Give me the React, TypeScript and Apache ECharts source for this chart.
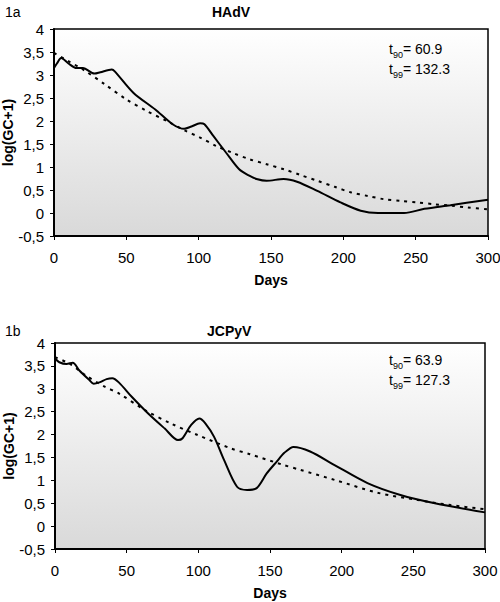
import React, { useEffect, useRef } from "react";
import * as echarts from "echarts";

const panelLabels = ["1a", "1b"];
const panelTitles = ["HAdV", "JCPyV"];
const t90Values = ["60.9", "63.9"];
const t99Values = ["132.3", "127.3"];
const xTicks = { min: 0, max: 300, interval: 50 };
const yTicks = { min: -0.5, max: 4, interval: 0.5 };

// HAdV observed (smoothed) curve: [day, log(GC+1)]
const hadvObserved: number[][] = [
  [0, 3.15], [2, 3.25], [5, 3.37], [10, 3.25], [15.6, 3.15], [20, 3.15], [28, 3.03],
  [32, 3.06], [40, 3.12], [42, 3.08], [55, 2.61], [70, 2.25], [82, 1.93], [90, 1.83],
  [95, 1.88], [101, 1.95], [104, 1.93], [110, 1.68], [119, 1.31], [128, 0.95],
  [135, 0.81], [140, 0.74], [147, 0.7], [158.7, 0.74], [168, 0.68], [182, 0.48],
  [198, 0.23], [212, 0.05], [224, 0.0], [242, 0.0], [256, 0.09], [274, 0.17], [300, 0.29],
];
// HAdV fitted model
const hadvFit: number[][] = [
  [0, 3.48], [10, 3.3], [20, 3.12], [35, 2.8], [50, 2.47], [64, 2.22], [78, 2.0],
  [90, 1.8], [101, 1.64], [112, 1.46], [124, 1.3], [135, 1.17], [147, 1.06], [159, 0.95],
  [170, 0.83], [182, 0.7], [194, 0.57], [205, 0.45], [217, 0.37], [228, 0.3],
  [240, 0.26], [251, 0.23], [263, 0.19], [274, 0.16], [286, 0.12], [300, 0.08],
];
// JCPyV observed (smoothed) curve
const jcpyvObserved: number[][] = [
  [0, 3.66], [3, 3.58], [8, 3.54], [12.4, 3.57], [17, 3.4], [24, 3.19], [27, 3.11],
  [31, 3.14], [36, 3.21], [40, 3.23], [44.5, 3.14], [53.7, 2.82], [65, 2.46], [76.6, 2.13],
  [85.8, 1.88], [89, 1.92], [95, 2.21], [100.7, 2.35], [105, 2.24], [111, 1.95],
  [118, 1.44], [127, 0.86], [134, 0.79], [140.7, 0.83], [147.7, 1.15], [154.7, 1.41],
  [160, 1.6], [166.4, 1.73], [178, 1.63], [194.7, 1.34], [218, 0.94], [241, 0.68],
  [265, 0.5], [300, 0.3],
];
// JCPyV fitted model
const jcpyvFit: number[][] = [
  [0, 3.69], [10, 3.55], [21.6, 3.29], [35, 3.04], [44.5, 2.9], [63, 2.53], [81, 2.24],
  [99.5, 1.99], [122.5, 1.7], [136, 1.57], [159, 1.34], [171, 1.23], [195, 1.01],
  [225, 0.73], [253, 0.57], [276, 0.46], [300, 0.37],
];

const observedSeries = [hadvObserved, jcpyvObserved];
const fitSeries = [hadvFit, jcpyvFit];

const FONT = "Liberation Sans";

export default function App() {
  const ref = useRef<HTMLDivElement>(null);
  useEffect(() => {
    if (!ref.current) return;
    const chart = echarts.init(ref.current, null, { renderer: "svg" });
    const grids = [
      { left: 54, top: 29, width: 434, height: 207 },
      { left: 55, top: 343, width: 430, height: 206 },
    ];
    const bg = {
      type: "linear", x: 0, y: 0, x2: 0, y2: 1,
      colorStops: [
        { offset: 0, color: "#ffffff" },
        { offset: 1, color: "#d9d9d9" },
      ],
    };
    const titleTops = [0, 319];
    const annTops = [39, 350];
    chart.setOption({
      animation: false,
      backgroundColor: "#ffffff",
      title: [
        ...panelLabels.map((t, i) => ({
          text: t, left: 0, top: titleTops[i],
          textStyle: { fontFamily: FONT, fontSize: 14, fontWeight: "normal", color: "#000" },
        })),
        ...panelTitles.map((t, i) => ({
          text: t, left: i === 0 ? 207 : 202, top: titleTops[i],
          textStyle: { fontFamily: FONT, fontSize: 14, fontWeight: "bold", color: "#000" },
        })),
      ],
      grid: grids.map((g) => ({
        ...g, show: true, backgroundColor: bg, borderColor: "#000", borderWidth: 1.5,
        containLabel: false, outerBoundsMode: "none",
      })),
      xAxis: grids.map((_, i) => ({
        type: "value", gridIndex: i, ...xTicks,
        name: "Days", nameLocation: "middle", nameGap: 37,
        nameTextStyle: { fontFamily: FONT, fontSize: 14, fontWeight: "bold", color: "#000" },
        axisLine: { show: true, onZero: false, lineStyle: { color: "#000", width: 2 } },
        axisTick: { show: true, inside: false, length: 4, lineStyle: { color: "#000" } },
        axisLabel: { fontFamily: FONT, fontSize: 15, color: "#000", margin: 14 },
        splitLine: { show: false },
      })),
      yAxis: grids.map((_, i) => ({
        type: "value", gridIndex: i, ...yTicks,
        name: "log(GC+1)", nameLocation: "middle", nameGap: 39, nameRotate: 90,
        nameMoveOverlap: false,
        nameTextStyle: { fontFamily: FONT, fontSize: 14, fontWeight: "bold", color: "#000" },
        axisLine: { show: true, onZero: false, lineStyle: { color: "#000", width: 2 } },
        axisTick: { show: true, inside: false, length: 4, lineStyle: { color: "#000" } },
        axisLabel: {
          fontFamily: FONT, fontSize: 15, color: "#000", margin: 10,
          formatter: (v: number) => String(v).replace(".", ","),
        },
        splitLine: { show: false },
      })),
      series: [
        ...observedSeries.map((d, i) => ({
          type: "line", xAxisIndex: i, yAxisIndex: i, data: d, smooth: 0.3,
          symbol: "none", lineStyle: { color: "#000", width: 2 }, z: 3,
        })),
        ...fitSeries.map((d, i) => ({
          type: "line", xAxisIndex: i, yAxisIndex: i, data: d, smooth: 0.3,
          symbol: "none", lineStyle: { color: "#000", width: 2, type: [3, 5] }, z: 2,
        })),
      ],
      graphic: t90Values.map((v, i) => ({
        type: "text", left: 389, top: annTops[i],
        style: {
          text: `t{s|90}= ${v}\nt{s|99}= ${t99Values[i]}`,
          fontFamily: FONT, fontSize: 14, fill: "#000", lineHeight: 20,
          rich: { s: { fontSize: 9, verticalAlign: "bottom", padding: [6, 0, 0, 0], fontFamily: FONT } },
        },
      })),
    });
    return () => chart.dispose();
  }, []);
  return (
    <div
      ref={ref}
      style={{ position: "fixed", left: 0, top: 0, width: 500, height: 602 }}
    />
  );
}
